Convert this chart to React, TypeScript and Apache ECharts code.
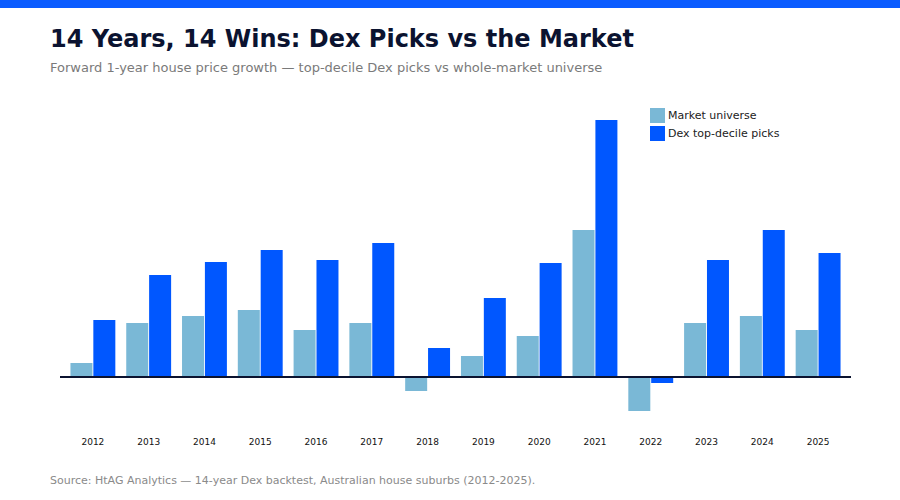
import React, { useEffect, useRef } from "react";
import * as echarts from "echarts";

// Forward 1-year house price growth (%), by year
const years = ["2012", "2013", "2014", "2015", "2016", "2017", "2018", "2019", "2020", "2021", "2022", "2023", "2024", "2025"];
const marketUniverse = [1.4, 5.4, 6.1, 6.7, 4.7, 5.4, -1.4, 2.1, 4.1, 14.7, -3.4, 5.4, 6.1, 4.7];
const dexPicks = [5.7, 10.2, 11.5, 12.7, 11.7, 13.4, 2.9, 7.9, 11.4, 25.7, -0.6, 11.7, 14.7, 12.4];

const TITLE = "14 Years, 14 Wins: Dex Picks vs the Market";
const SUBTITLE = "Forward 1-year house price growth \u2014 top-decile Dex picks vs whole-market universe";
const SOURCE = "Source: HtAG Analytics \u2014 14-year Dex backtest, Australian house suburbs (2012-2025).";

const FONT = "DejaVu Sans";

export default function App() {
  const ref = useRef<HTMLDivElement>(null);

  useEffect(() => {
    document.body.style.margin = "0";
    if (!ref.current) return;
    const chart = echarts.init(ref.current, undefined, { renderer: "svg" });
    chart.setOption({
      animation: false,
      backgroundColor: "#ffffff",
      textStyle: { fontFamily: FONT },
      grid: { left: 65, right: 54, top: 100, bottom: 80, containLabel: false },
      legend: {
        orient: "vertical",
        left: 645,
        top: 103,
        itemWidth: 15,
        itemHeight: 15,
        itemGap: 3,
        icon: "rect",
        textStyle: { fontFamily: FONT, fontSize: 11, color: "#222222", padding: [0, 0, 0, -2] },
        data: ["Market universe", "Dex top-decile picks"],
      },
      xAxis: {
        type: "category",
        data: years,
        position: "bottom",
        axisLine: { show: false, onZero: false },
        axisTick: { show: false },
        axisLabel: { fontFamily: FONT, fontSize: 9, color: "#111111", margin: 17 },
      },
      yAxis: {
        type: "value",
        min: -4.3,
        max: 27.7,
        axisLine: { show: false },
        axisTick: { show: false },
        axisLabel: { show: false },
        splitLine: { show: false },
      },
      series: [
        {
          name: "Market universe",
          type: "bar",
          data: marketUniverse,
          barWidth: 22,
          barGap: "4%",
          itemStyle: { color: "#7ab8d6" },
        },
        {
          name: "Dex top-decile picks",
          type: "bar",
          data: dexPicks,
          barWidth: 22,
          barGap: "4%",
          itemStyle: { color: "#0057ff" },
        },
      ],
      graphic: [
        { type: "rect", left: 0, top: 0, shape: { width: 900, height: 8 }, style: { fill: "#0a5cff" } },
        {
          type: "text",
          left: 50,
          top: 27,
          style: { text: TITLE, fontFamily: FONT, fontSize: 24, fontWeight: "bold", fill: "#0b1330" },
        },
        {
          type: "text",
          left: 50,
          top: 61,
          style: { text: SUBTITLE, fontFamily: FONT, fontSize: 13, fill: "#7a7a7a" },
        },
        {
          type: "text",
          left: 50,
          top: 475,
          style: { text: SOURCE, fontFamily: FONT, fontSize: 11, fill: "#8a8a8a" },
        },
      ],
    });

    // Zero baseline, placed from the value axis scale
    const y0 = chart.convertToPixel({ yAxisIndex: 0 }, 0) as number;
    chart.setOption({
      graphic: [
        {
          id: "zero-line",
          type: "line",
          shape: { x1: 60, y1: y0, x2: 851, y2: y0 },
          style: { stroke: "#0b1330", lineWidth: 2 },
          z: 10,
        },
      ],
    });

    return () => chart.dispose();
  }, []);

  return <div ref={ref} style={{ width: 900, height: 500 }} />;
}
